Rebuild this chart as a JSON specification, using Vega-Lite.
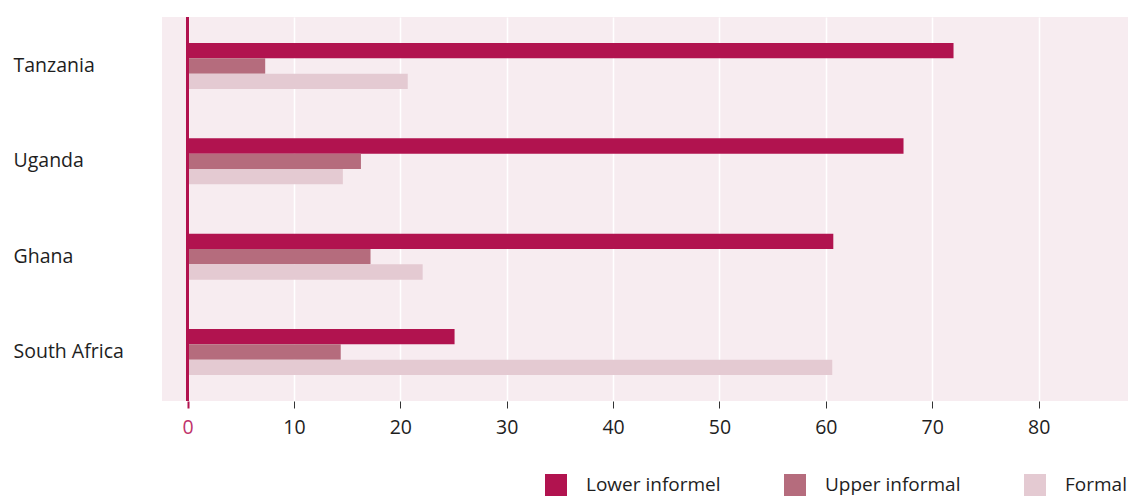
{
  "$schema": "https://vega.github.io/schema/vega-lite/v6.json",
  "autosize": {"type": "none"},
  "padding": {"left": 162, "top": 17, "right": 0, "bottom": 95},
  "width": 966,
  "height": 384,
  "background": "#ffffff",
  "config": {
    "font": "Open Sans",
    "view": {"fill": "#F7ECF0", "stroke": null},
    "axis": {"labelFont": "Open Sans", "labelColor": "#1e1e1e"},
    "legend": {"padding": 0}
  },
  "data": {
    "values": [
      {"country": "Tanzania", "type": "Lower informel", "value": 72.0},
      {"country": "Tanzania", "type": "Upper informal", "value": 7.3},
      {"country": "Tanzania", "type": "Formal", "value": 20.7},
      {"country": "Uganda", "type": "Lower informel", "value": 67.3},
      {"country": "Uganda", "type": "Upper informal", "value": 16.3},
      {"country": "Uganda", "type": "Formal", "value": 14.6},
      {"country": "Ghana", "type": "Lower informel", "value": 60.7},
      {"country": "Ghana", "type": "Upper informal", "value": 17.2},
      {"country": "Ghana", "type": "Formal", "value": 22.1},
      {"country": "South Africa", "type": "Lower informel", "value": 25.1},
      {"country": "South Africa", "type": "Upper informal", "value": 14.4},
      {"country": "South Africa", "type": "Formal", "value": 60.6}
    ]
  },
  "layer": [
    {
      "mark": {"type": "bar"},
      "encoding": {
        "y": {
          "field": "country",
          "type": "nominal",
          "sort": ["Tanzania", "Uganda", "Ghana", "South Africa"],
          "scale": {"paddingInner": 0.517, "paddingOuter": 0.273},
          "axis": {
            "title": null,
            "domain": false,
            "ticks": false,
            "tickSize": 0,
            "labelAlign": "left",
            "labelPadding": 149,
            "labelFontSize": 19.5,
            "labelBaseline": "middle"
          }
        },
        "yOffset": {
          "field": "type",
          "type": "nominal",
          "sort": ["Lower informel", "Upper informal", "Formal"],
          "scale": {"paddingInner": 0, "paddingOuter": 0}
        },
        "x": {
          "field": "value",
          "type": "quantitative",
          "scale": {"domain": [-2.4, 88.4], "nice": false, "zero": false},
          "axis": {
            "title": null,
            "values": [0, 10, 20, 30, 40, 50, 60, 70, 80],
            "domain": false,
            "grid": true,
            "gridColor": "#ffffff",
            "gridWidth": 1.5,
            "tickSize": 7,
            "tickColor": {"condition": {"test": "datum.value === 0", "value": "#B1134F"}, "value": "#333333"},
            "tickWidth": {"condition": {"test": "datum.value === 0", "value": 2}, "value": 1},
            "labelColor": {"condition": {"test": "datum.value === 0", "value": "#C0336B"}, "value": "#1e1e1e"},
            "labelFontSize": 19.5,
            "labelPadding": 10
          }
        },
        "color": {
          "field": "type",
          "type": "nominal",
          "scale": {
            "domain": ["Lower informel", "Upper informal", "Formal"],
            "range": ["#B1134F", "#B56C7D", "#E4CAD2"]
          },
          "legend": {
            "title": null,
            "orient": "none",
            "direction": "horizontal",
            "legendX": 383,
            "legendY": 457,
            "symbolType": "square",
            "symbolSize": 484,
            "symbolStrokeWidth": 0,
            "labelFontSize": 19,
            "labelColor": "#1e1e1e",
            "labelOffset": 19,
            "columnPadding": 63,
            "labelLimit": 300
          }
        }
      }
    },
    {
      "mark": {"type": "rule", "color": "#B1134F", "strokeWidth": 2},
      "encoding": {"x": {"datum": 0, "type": "quantitative"}}
    }
  ]
}
